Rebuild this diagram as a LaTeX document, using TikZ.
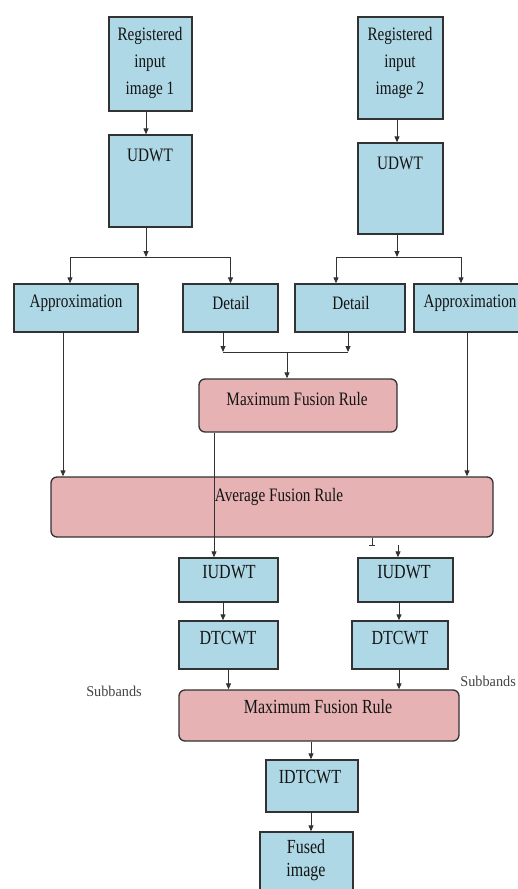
\documentclass[tikz,border=0pt]{standalone}
\usepackage{fontspec}
\setmainfont{Liberation Serif}[FakeStretch=0.8]
\newfontfamily\subfont{Liberation Serif}[FakeStretch=0.95]
\usetikzlibrary{arrows.meta}
\definecolor{boxblue}{RGB}{174,216,230}
\definecolor{boxpink}{RGB}{230,178,180}
\definecolor{edge}{RGB}{50,50,50}
\definecolor{ink}{RGB}{20,20,20}
\tikzset{
  bbox/.style={draw=edge, line width=1.3pt, fill=boxblue, inner sep=0pt},
  pbox/.style={draw=edge, line width=1.3pt, fill=boxpink, inner sep=0pt, rounded corners=6pt},
  txt/.style={text=ink, font=\fontsize{19}{27}\selectfont, align=center, inner sep=0pt},
  btxt/.style={text=ink, font=\fontsize{20}{24}\selectfont, align=center, inner sep=0pt},
  stxt/.style={text=ink!80, font=\subfont\fontsize{15}{18}\selectfont, inner sep=0pt},
  arr/.style={draw=edge, line width=0.9pt, -{Triangle[length=6pt,width=5pt]}},
  ln/.style={draw=edge, line width=0.9pt}
}
\begin{document}
\begin{tikzpicture}[x=1pt,y=-1pt]
\useasboundingbox (0,0) rectangle (518,889);
\clip (0,0) rectangle (518,889);
% boxes
\node[bbox, minimum width=83pt, minimum height=94pt] (reg1) at (150.5,64) {};
\node[bbox, minimum width=85pt, minimum height=102pt] (reg2) at (400.5,68) {};
\node[bbox, minimum width=83pt, minimum height=92pt] (udwt1) at (150.5,181) {};
\node[bbox, minimum width=85pt, minimum height=91pt] (udwt2) at (400.5,188.5) {};
\node[bbox, minimum width=124pt, minimum height=48pt] (app1) at (76,308) {};
\node[bbox, minimum width=95pt, minimum height=48pt] (det1) at (230.5,308) {};
\node[bbox, minimum width=110pt, minimum height=48pt] (det2) at (350,308) {};
\node[bbox, minimum width=126pt, minimum height=48pt] (app2) at (477,308) {};
\node[pbox, minimum width=198pt, minimum height=53pt] (max1) at (298,405.5) {};
\node[pbox, minimum width=442pt, minimum height=60pt] (avg) at (272,507) {};
\node[bbox, minimum width=99pt, minimum height=44pt] (iudwt1) at (228.5,580) {};
\node[bbox, minimum width=95pt, minimum height=44pt] (iudwt2) at (405.5,580) {};
\node[bbox, minimum width=99pt, minimum height=48pt] (dtcwt1) at (228.5,645) {};
\node[bbox, minimum width=96pt, minimum height=48pt] (dtcwt2) at (400,645) {};
\node[pbox, minimum width=280pt, minimum height=51pt] (max2) at (319,715.5) {};
\node[bbox, minimum width=92pt, minimum height=52pt] (idtcwt) at (312,786) {};
\node[bbox, minimum width=93pt, minimum height=63pt] (fused) at (306.5,863.5) {};
% texts
\node[txt] (treg1) at (150,63) {Registered\\input\\image 1};
\node[txt] (treg2) at (400,63) {Registered\\input\\image 2};
\node[txt] (tudwt1) at (150,155) {UDWT};
\node[txt] (tudwt2) at (400,163) {UDWT};
\node[txt] (tapp1) at (76,303) {Approximation};
\node[txt] (tdet1) at (231,303) {Detail};
\node[txt] (tdet2) at (351,303) {Detail};
\node[txt] (tapp2) at (470,303) {Approximation};
\node[txt] (tmax1) at (297,399) {Maximum Fusion Rule};
\node[txt] (tavg) at (279,497) {Average Fusion Rule};
\node[btxt] (tiudwt1) at (229,572) {IUDWT};
\node[btxt] (tiudwt2) at (404,572) {IUDWT};
\node[btxt] (tdtcwt1) at (228,638) {DTCWT};
\node[btxt] (tdtcwt2) at (400,638) {DTCWT};
\node[btxt] (tmax2) at (318,707) {Maximum Fusion Rule};
\node[btxt] (tidtcwt) at (310,777) {IDTCWT};
\node[btxt, font=\fontsize{20}{23}\selectfont] (tfused) at (306,860.5) {Fused\\image};
\node[stxt] (sub1) at (114,691) {Subbands};
\node[stxt, anchor=east] (sub2) at (516,681) {Subbands};
% junctions
\coordinate (j1) at (146,257);
\coordinate (j2) at (397,257);
\coordinate (j3) at (223,352);
\coordinate (j4) at (348,352);
\coordinate (j5) at (287,352);
\coordinate (j7) at (398,545);
% connectors
\draw[arr] ([xshift=-4.5]reg1.south) -- ([xshift=-4.5]udwt1.north);
\draw[arr] ([xshift=-3.5]reg2.south) -- ([xshift=-3.5]udwt2.north);
\draw[arr] ([xshift=-4.5]udwt1.south) -- (j1);
\draw[arr] (j1) -| ([xshift=-6]app1.north);
\draw[arr] (j1) -| (det1.north);
\draw[arr] ([xshift=-3.5]udwt2.south) -- (j2);
\draw[arr] (j2) -| ([xshift=-14]det2.north);
\draw[arr] (j2) -| ([xshift=-16]app2.north);
\draw[arr] ([xshift=-7.5]det1.south) -- (j3);
\draw[arr] ([xshift=-2]det2.south) -- (j4);
\draw[ln] (j3) -- (j4);
\draw[arr] (j5) -- (max1.north -| j5);
\draw[arr] ([xshift=-13]app1.south) -- ([xshift=-13]app1.south |- avg.north);
\draw[arr] ([xshift=-10]app2.south) -- ([xshift=-10]app2.south |- avg.north);
\draw[arr] ([xshift=-84]max1.south) -- ([xshift=-84]max1.south |- iudwt1.north);
\draw[ln] ([xshift=100]avg.south) -- ++(0,8) ++(-3,0) -- ++(6,0);
\draw[arr] (j7) -- (iudwt2.north -| j7);
\draw[arr] ([xshift=-5.5]iudwt1.south) -- ([xshift=-5.5]iudwt1.south |- dtcwt1.north);
\draw[arr] ([xshift=-6.5]iudwt2.south) -- ([xshift=-6.5]iudwt2.south |- dtcwt2.north);
\draw[arr] (dtcwt1.south) -- (dtcwt1.south |- max2.north);
\draw[arr] ([xshift=-1]dtcwt2.south) -- ([xshift=-1]dtcwt2.south |- max2.north);
\draw[arr] ([xshift=-8]max2.south) -- ([xshift=-8]max2.south |- idtcwt.north);
\draw[arr] ([xshift=-1]idtcwt.south) -- ([xshift=-1]idtcwt.south |- fused.north);
\end{tikzpicture}
\end{document}
